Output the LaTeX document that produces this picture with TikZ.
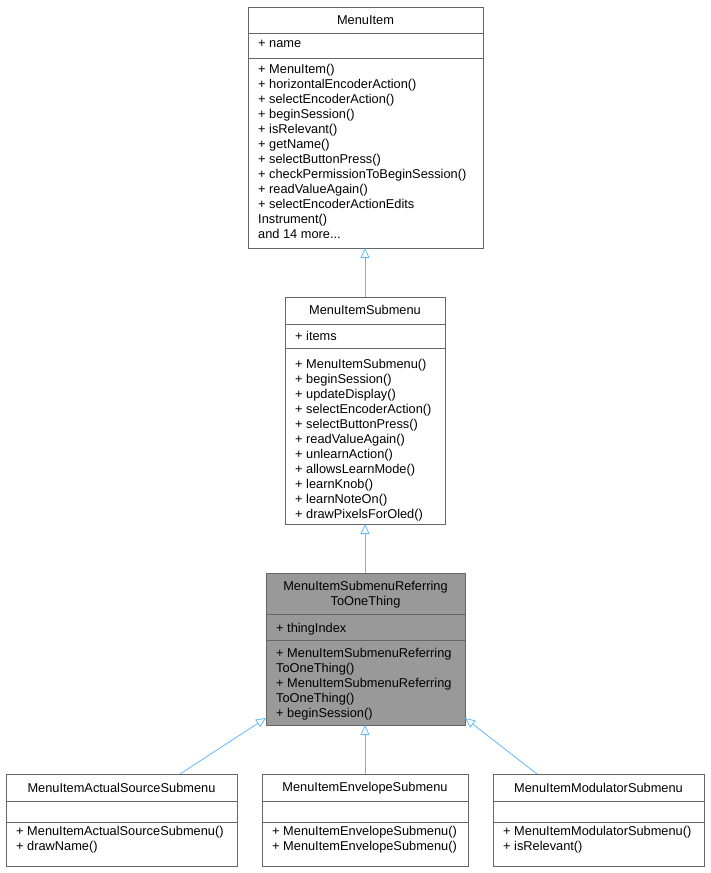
\documentclass[tikz,border=0pt]{standalone}
\usepackage{fontspec}
\setmainfont{Liberation Sans}
\usetikzlibrary{arrows.meta}
\definecolor{edgec}{HTML}{63B8FF}
\definecolor{boxc}{HTML}{666666}
\tikzset{
  sec/.style={draw=boxc, line width=0.8pt},
  txt/.style={anchor=north west, inner sep=0pt, align=left, font=\fontsize{12.8}{15}\selectfont},
  ttl/.style={anchor=center, inner sep=0pt, align=center, font=\fontsize{12.8}{15}\selectfont},
  inh/.style={draw=edgec, line width=0.8pt, -{Triangle[open, length=10pt, width=9pt]}}
}
\begin{document}
\begin{tikzpicture}[x=1pt,y=-1pt]
\useasboundingbox (0,0) rectangle (710,873);
% MenuItem
\draw[sec, fill=white] (248,7) rectangle (483,248);
\draw[sec] (248,33) -- (483,33) (248,58) -- (483,58);
\node[ttl] (mi) at (365.5,20) {MenuItem};
\node[txt] (mia) at (258,40) {+ name};
\node[txt] (mim) at (258,64) {+ MenuItem()\\+ horizontalEncoderAction()\\+ selectEncoderAction()\\+ beginSession()\\+ isRelevant()\\+ getName()\\+ selectButtonPress()\\+ checkPermissionToBeginSession()\\+ readValueAgain()\\+ selectEncoderActionEdits\\Instrument()\\and 14 more...};
\coordinate (miB) at (365,248);
% MenuItemSubmenu
\draw[sec, fill=white] (285,297) rectangle (445,524);
\draw[sec] (285,324) -- (445,324) (285,348) -- (445,348);
\node[ttl] (ms) at (365,310) {MenuItemSubmenu};
\node[txt] (msa) at (295,331) {+ items};
\node[txt] (msm) at (295,359) {+ MenuItemSubmenu()\\+ beginSession()\\+ updateDisplay()\\+ selectEncoderAction()\\+ selectButtonPress()\\+ readValueAgain()\\+ unlearnAction()\\+ allowsLearnMode()\\+ learnKnob()\\+ learnNoteOn()\\+ drawPixelsForOled()};
\coordinate (msT) at (365,297);
\coordinate (msB) at (365,524);
% Referring
\draw[sec, fill=black!40] (266,573) rectangle (465,725);
\draw[sec] (266,614) -- (465,614) (266,640) -- (465,640);
\node[ttl] (mr) at (365.5,595) {MenuItemSubmenuReferring\\ToOneThing};
\node[txt] (mra) at (276,623) {+ thingIndex};
\node[txt] (mrm) at (276,648) {+ MenuItemSubmenuReferring\\ToOneThing()\\+ MenuItemSubmenuReferring\\ToOneThing()\\+ beginSession()};
\coordinate (mrT) at (365,573);
\coordinate (mrB) at (365,725);
\coordinate (mrL) at (266,718);
\coordinate (mrR) at (465,718);
% bottom boxes
\foreach \a/\b/\n/\t/\m in {6/237/l/MenuItemActualSourceSubmenu/{+ MenuItemActualSourceSubmenu()\\+ drawName()},
  262/468/c/MenuItemEnvelopeSubmenu/{+ MenuItemEnvelopeSubmenu()\\+ MenuItemEnvelopeSubmenu()},
  493/704/r/MenuItemModulatorSubmenu/{+ MenuItemModulatorSubmenu()\\+ isRelevant()}}{
  \draw[sec, fill=white] (\a,774) rectangle (\b,866);
  \draw[sec] (\a,801) -- (\b,801) (\a,822) -- (\b,822);
  \node[ttl] (b\n) at ({(\a+\b)/2},788) {\t};
  \node[txt] (b\n m) at (\a+10,826) {\m};
}
\coordinate (blT) at (180,774);
\coordinate (bcT) at (365,774);
\coordinate (brT) at (537,774);
\draw[inh] (msT) -- (miB);
\draw[inh] (mrT) -- (msB);
\draw[inh] (blT) -- (mrL);
\draw[inh] (bcT) -- (mrB);
\draw[inh] (brT) -- (mrR);
\end{tikzpicture}
\end{document}
